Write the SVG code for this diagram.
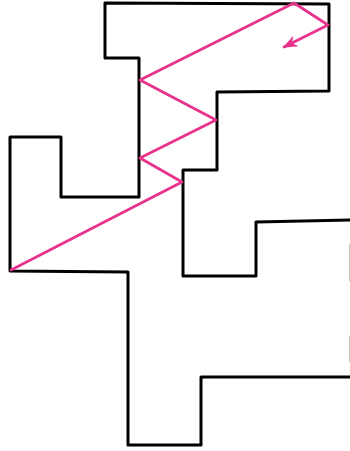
<svg xmlns="http://www.w3.org/2000/svg" width="350" height="451" viewBox="0 0 350 451">
<defs>
<style>
.outline{fill:none;stroke:#000;stroke-width:3;stroke-linejoin:round;stroke-linecap:round}
.path{fill:none;stroke:#e8328c;stroke-width:2.7;stroke-linejoin:round;stroke-linecap:round}
.faint{fill:none;stroke:#c8c8c8;stroke-width:1.2}
</style>
<marker id="ah" viewBox="0 0 10 10" refX="9" refY="5" markerWidth="5.5" markerHeight="5.5" orient="auto" markerUnits="strokeWidth">
<path d="M0,1 L10,5 L0,9 L3,5 Z" fill="#e8328c"/>
</marker>
</defs>
<rect width="350" height="451" fill="#fff"/>
<g id="shape">
<path class="outline" d="M351,220 L256,222 L256,276 L183,276 L183,170 L217,170 L217,92 L329,91 L329,4 L105,3 L105,58 L139,58 L139,197 L61,197 L61,137 L10,137 L10,271 L128,272 L128,445 L201,445 L201,377 L351,377"/>
<path class="faint" d="M349.5,244 L349.5,281 M349.5,336 L349.5,362"/>
</g>
<g id="connectors">
<path class="path" d="M11,270 L182,182 L140,158 L216,120 L140,80 L294,3 L328,25 L284,47" marker-end="url(#ah)"/>
</g>
</svg>
